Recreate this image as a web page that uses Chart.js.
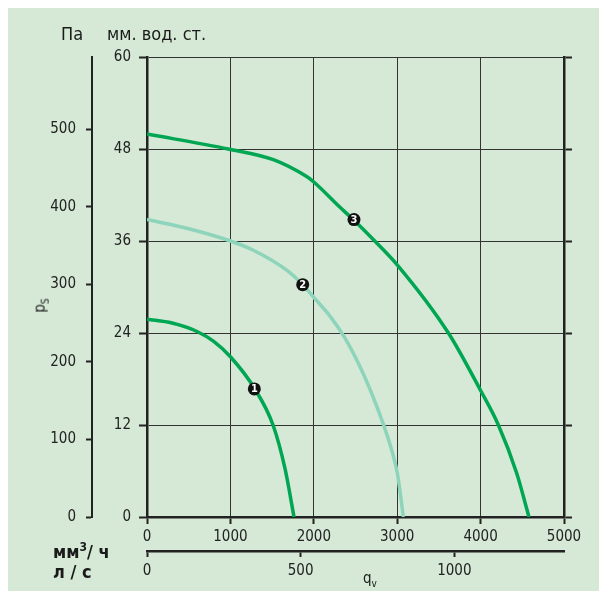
<!DOCTYPE html>
<html lang="ru">
<head>
<meta charset="utf-8">
<title>Характеристика вентилятора</title>
<script src="https://cdn.jsdelivr.net/npm/chart.js@4.4.1/dist/chart.umd.min.js"></script>
<style>
  html, body { margin: 0; padding: 0; background: #fff; }
  #wrap { position: relative; width: 599px; height: 594px; overflow: hidden;
          font-family: "Liberation Sans Narrow", "DejaVu Sans Condensed", sans-serif; color: #1a1a1a; }
  #panel { position: absolute; left: 8px; top: 8px; width: 591px; height: 583px; background: #d5e9d6; }
  #chart { position: absolute; left: 0; top: 0; }
  .lbl { position: absolute; white-space: nowrap; line-height: 1; }
  .unit { font-size: 18px; }
  .bold { font-weight: bold; }
  sup { font-size: 12px; vertical-align: 7px; line-height: 0; }
  sub { font-size: 10px; vertical-align: -4px; line-height: 0; }
</style>
</head>
<body>
<div id="wrap">
  <div id="panel"></div>
  <canvas id="chart" width="599" height="594"></canvas>
  <div class="lbl unit" style="left:61px; top:25px;">Па</div>
  <div class="lbl unit" style="left:107px; top:25px;">мм. вод. ст.</div>
  <div class="lbl unit bold" style="left:53px; top:543px;">мм<sup>3</sup>/ ч</div>
  <div class="lbl unit bold" style="left:53px; top:563px;">л / с</div>
  <div class="lbl" style="left:363px; top:571px; font-size:15px;">q<sub>v</sub></div>
  <div class="lbl" style="left:33px; top:298px; font-size:15px; transform:rotate(-90deg); transform-origin:center;">p<sub>S</sub></div>
</div>

<script>
// ── Data (flow in м³/ч, pressure in мм вод. ст.) ───────────────────────────

const curve1Flow     = [0, 300, 600, 800, 1000, 1287, 1511, 1655, 1763];
const curve1Pressure = [25.8, 25.3, 24.2, 22.9, 20.9, 16.8, 12.0, 6.3, 0];

const curve2Flow     = [0, 500, 1000, 1275, 1675, 1867, 2000, 2194, 2370, 2546, 2680, 2834, 2940, 3002, 3074];
const curve2Pressure = [38.8, 37.6, 36.0, 34.8, 32.2, 30.3, 28.65, 26.2, 23.4, 19.8, 16.5, 12.1, 8.5, 5.7, 0];

const curve3Flow     = [0, 975, 1515, 1914, 2000, 2314, 2482, 2713, 3000, 3614, 4000, 4213, 4433, 4580];
const curve3Pressure = [49.95, 48.0, 46.6, 44.4, 43.7, 40.4, 38.7, 36.2, 32.9, 24.0, 16.5, 12.0, 5.7, 0];

const markerFlow     = [1287, 1867, 2482];
const markerPressure = [16.7, 30.3, 38.8];
const markerLabels   = ['1', '2', '3'];

// tick labels of every axis
const flowTicks  = [0, 1000, 2000, 3000, 4000, 5000];   // м³/ч
const litreTicks = [0, 500, 1000];                       // л/с
const mmTicks    = [0, 12, 24, 36, 48, 60];              // мм вод. ст.
const paTicks    = [0, 100, 200, 300, 400, 500];         // Па

// axis ranges
const flowMax = 5000;
const litreMax = 1357;
const mmMax = 60;
const paMax = 593.5;

// ── Helpers ──────────────────────────────────────────────────────────────────

const FONT = '"Liberation Sans Narrow", "DejaVu Sans Condensed", sans-serif';
const INK = '#222';
const DARK_GREEN = '#00a651';
const LIGHT_GREEN = '#8dd4bb';

function toPoints(xs, ys) {
  return xs.map((x, i) => ({ x, y: ys[i] }));
}

function curve(label, xs, ys, color) {
  return {
    label, data: toPoints(xs, ys), borderColor: color, borderWidth: 3.5,
    pointRadius: 0, cubicInterpolationMode: 'monotone', fill: false, order: 1
  };
}

function fixedTicks(values) {
  return axis => { axis.ticks = values.map(v => ({ value: v })); };
}

const markerNumbers = {
  id: 'markerNumbers',
  afterDatasetsDraw(chart) {
    const meta = chart.getDatasetMeta(3);
    const ctx = chart.ctx;
    ctx.save();
    ctx.fillStyle = '#fff';
    ctx.font = 'bold 11px ' + FONT;
    ctx.textAlign = 'center';
    ctx.textBaseline = 'middle';
    meta.data.forEach((pt, i) => ctx.fillText(markerLabels[i], pt.x, pt.y + 0.5));
    ctx.restore();
  }
};

const tickGrid = (len, onChart) => ({
  color: '#333', lineWidth: 1, drawOnChartArea: onChart,
  tickLength: len, tickWidth: 2, tickColor: INK
});

const plainLabel = v => String(v);

// ── Chart ────────────────────────────────────────────────────────────────────

Chart.defaults.font.family = FONT;
Chart.defaults.font.size = 15;
Chart.defaults.color = INK;

new Chart(document.getElementById('chart'), {
  type: 'line',
  data: {
    datasets: [
      curve('1', curve1Flow, curve1Pressure, DARK_GREEN),
      curve('2', curve2Flow, curve2Pressure, LIGHT_GREEN),
      curve('3', curve3Flow, curve3Pressure, DARK_GREEN),
      {
        type: 'scatter', label: 'markers', data: toPoints(markerFlow, markerPressure),
        pointRadius: 6.5, pointBackgroundColor: '#111', pointBorderWidth: 0, order: 0
      }
    ]
  },
  options: {
    responsive: false, animation: false,
    layout: { padding: { top: 57, left: 0, right: 0, bottom: 0 } },
    plugins: { legend: { display: false }, tooltip: { enabled: false } },
    scales: {
      x: {
        type: 'linear', position: 'bottom', weight: 0, min: 0, max: flowMax,
        afterBuildTicks: fixedTicks(flowTicks),
        ticks: { padding: 4, maxRotation: 0, callback: plainLabel },
        grid: tickGrid(7, true), border: { color: INK, width: 2.5 },
        afterFit(s) { s.height = 34; }
      },
      xLitre: {
        type: 'linear', position: 'bottom', weight: 1, min: 0, max: litreMax,
        afterBuildTicks: fixedTicks(litreTicks),
        ticks: { padding: 5, maxRotation: 0, callback: plainLabel },
        grid: tickGrid(6, false), border: { color: INK, width: 2.5 },
        afterFit(s) { s.height = 43; }
      },
      y: {
        type: 'linear', position: 'left', weight: 0, min: 0, max: mmMax,
        afterBuildTicks: fixedTicks(mmTicks),
        ticks: { padding: 8, callback: plainLabel },
        grid: tickGrid(8, true), border: { color: INK, width: 2.5 },
        afterFit(s) { s.width = 55; }
      },
      yPa: {
        type: 'linear', position: 'left', weight: 1, min: 0, max: paMax,
        afterBuildTicks: fixedTicks(paTicks),
        ticks: { padding: 10, callback: plainLabel },
        grid: tickGrid(6, false), border: { color: INK, width: 2 },
        afterFit(s) { s.width = 92; }
      },
      yRight: {
        type: 'linear', position: 'right', min: 0, max: mmMax,
        afterBuildTicks: fixedTicks(mmTicks),
        ticks: { display: false },
        grid: tickGrid(8, false), border: { color: INK, width: 2.5 },
        afterFit(s) { s.width = 35; }
      }
    }
  },
  plugins: [markerNumbers]
});
</script>
</body>
</html>
